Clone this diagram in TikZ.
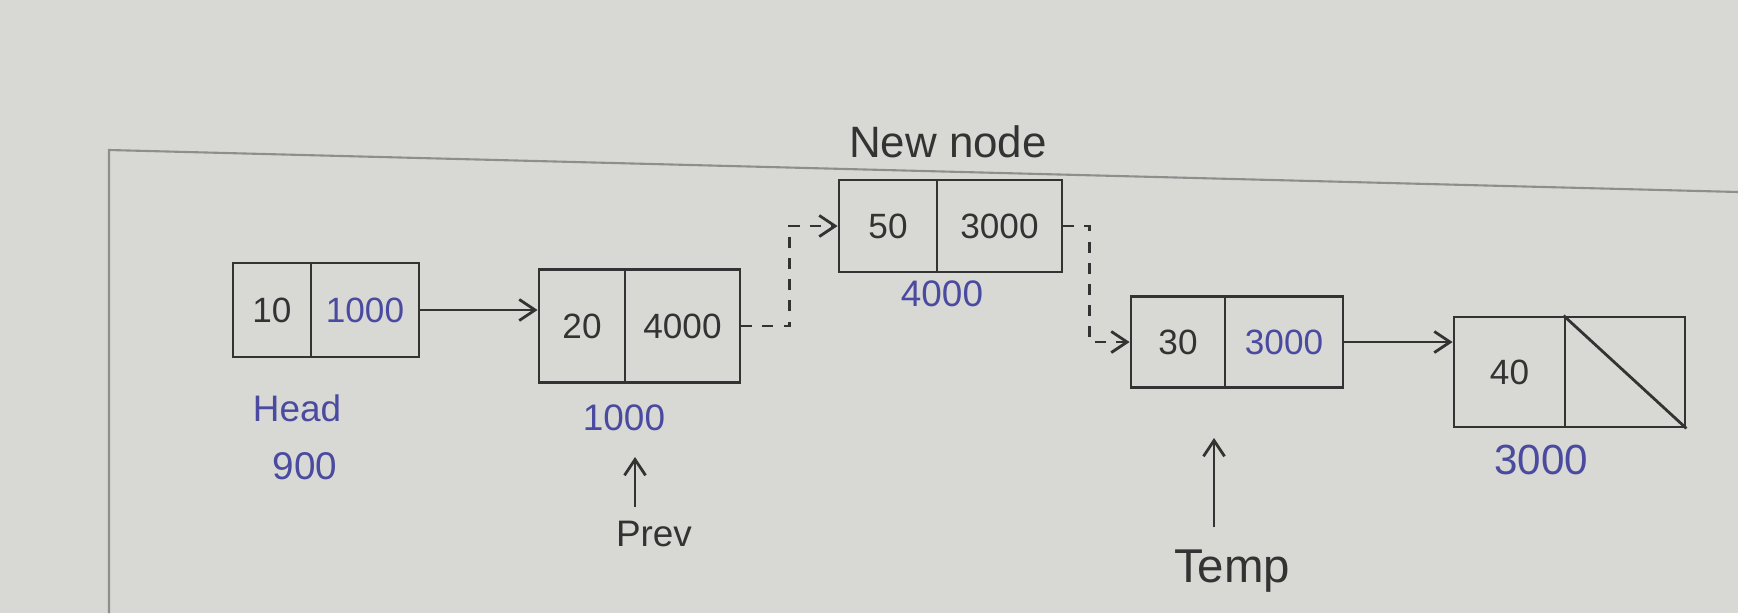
\documentclass[tikz,border=0pt]{standalone}
\usepackage{fontspec}
\setmainfont{Liberation Sans}
\usetikzlibrary{arrows.meta,calc}
\definecolor{paper}{HTML}{D8D8D5}
\definecolor{ink}{HTML}{333333}
\definecolor{blueink}{HTML}{4A4AA0}
\definecolor{marginline}{HTML}{8E8E8C}
\begin{document}
\begin{tikzpicture}[x=0.02cm,y=-0.02cm,
  cell/.style={draw=ink,line width=1.6pt,inner sep=0pt,text=ink,font=\fontsize{20}{24}\selectfont},
  bluetext/.style={text=blueink},
  lbl/.style={inner sep=0pt,text=ink},
  arr/.style={draw=ink,line width=1.6pt,-{Straight Barb[length=9pt,width=12pt,line width=1.6pt]}},
  dlink/.style={arr,dash pattern=on 6pt off 6pt}]
\fill[paper] (0,0) rectangle (1738,613);
\useasboundingbox (0,0) rectangle (1738,613);
% page margin lines of the paper
\draw[marginline,line width=1.2pt] (109,613) -- (109,150) -- (1738,192);
% node 1 (Head)
\node[cell,minimum width=1.56cm,minimum height=1.88cm] (n1d) at (272,310) {10};
\node[cell,bluetext,minimum width=2.16cm,minimum height=1.88cm] (n1p) at (365,310) {1000};
% node 2
\node[cell,minimum width=1.72cm,minimum height=2.26cm] (n2d) at (582,326) {20};
\node[cell,minimum width=2.30cm,minimum height=2.26cm] (n2p) at (682.5,326) {4000};
% node 3 (new node)
\node[cell,minimum width=1.96cm,minimum height=1.84cm] (n3d) at (888,226) {50};
\node[cell,minimum width=2.50cm,minimum height=1.84cm] (n3p) at (999.5,226) {3000};
% node 4
\node[cell,minimum width=1.88cm,minimum height=1.82cm] (n4d) at (1178,342) {30};
\node[cell,bluetext,minimum width=2.36cm,minimum height=1.82cm] (n4p) at (1284,342) {3000};
% node 5
\node[cell,minimum width=2.22cm,minimum height=2.20cm] (n5d) at (1509.5,372) {40};
\node[cell,minimum width=2.40cm,minimum height=2.20cm] (n5p) at (1625,372) {};
\draw[ink,line width=1.6pt] (n5p.north west) -- (n5p.south east);
% labels
\node[lbl,text=blueink,font=\fontsize{21}{24}\selectfont] (head) at (297,408) {Head};
\node[lbl,text=blueink,font=\fontsize{22}{24}\selectfont] (h900) at (305,466) {900};
\node[lbl,text=blueink,font=\fontsize{21}{24}\selectfont] (a1000) at (624,418) {1000};
\node[lbl,font=\fontsize{21}{24}\selectfont] (prev) at (654,534) {Prev};
\node[lbl,font=\fontsize{25}{28}\selectfont] (newnode) at (948,142) {New node};
\node[lbl,text=blueink,font=\fontsize{21}{24}\selectfont] (a4000) at (942,294) {4000};
\node[lbl,font=\fontsize{27}{30}\selectfont] (temp) at (1232,571) {Temp};
\node[lbl,text=blueink,font=\fontsize{24}{28}\selectfont] (a3000) at (1541,460) {3000};
% connectors
\draw[arr] (n1p.east) -- (n1p.east -| n2d.west);
\draw[dlink] (n2p.east) -| ($(n3d.west)+(-48,0)$) -- (n3d.west);
\draw[dlink] (n3p.east) -| ($(n4d.west)+(-40,0)$) -- (n4d.west);
\draw[arr] (n4p.east) -- (n4p.east -| n5d.west);
% pointer arrows
\coordinate (prevtip) at (635,457);
\coordinate (temptip) at (1214,438);
\draw[arr] (prev.north -| prevtip) ++(0,-14) -- (prevtip);
\draw[arr] (temp.north -| temptip) ++(0,-22) -- (temptip);
\end{tikzpicture}
\end{document}
